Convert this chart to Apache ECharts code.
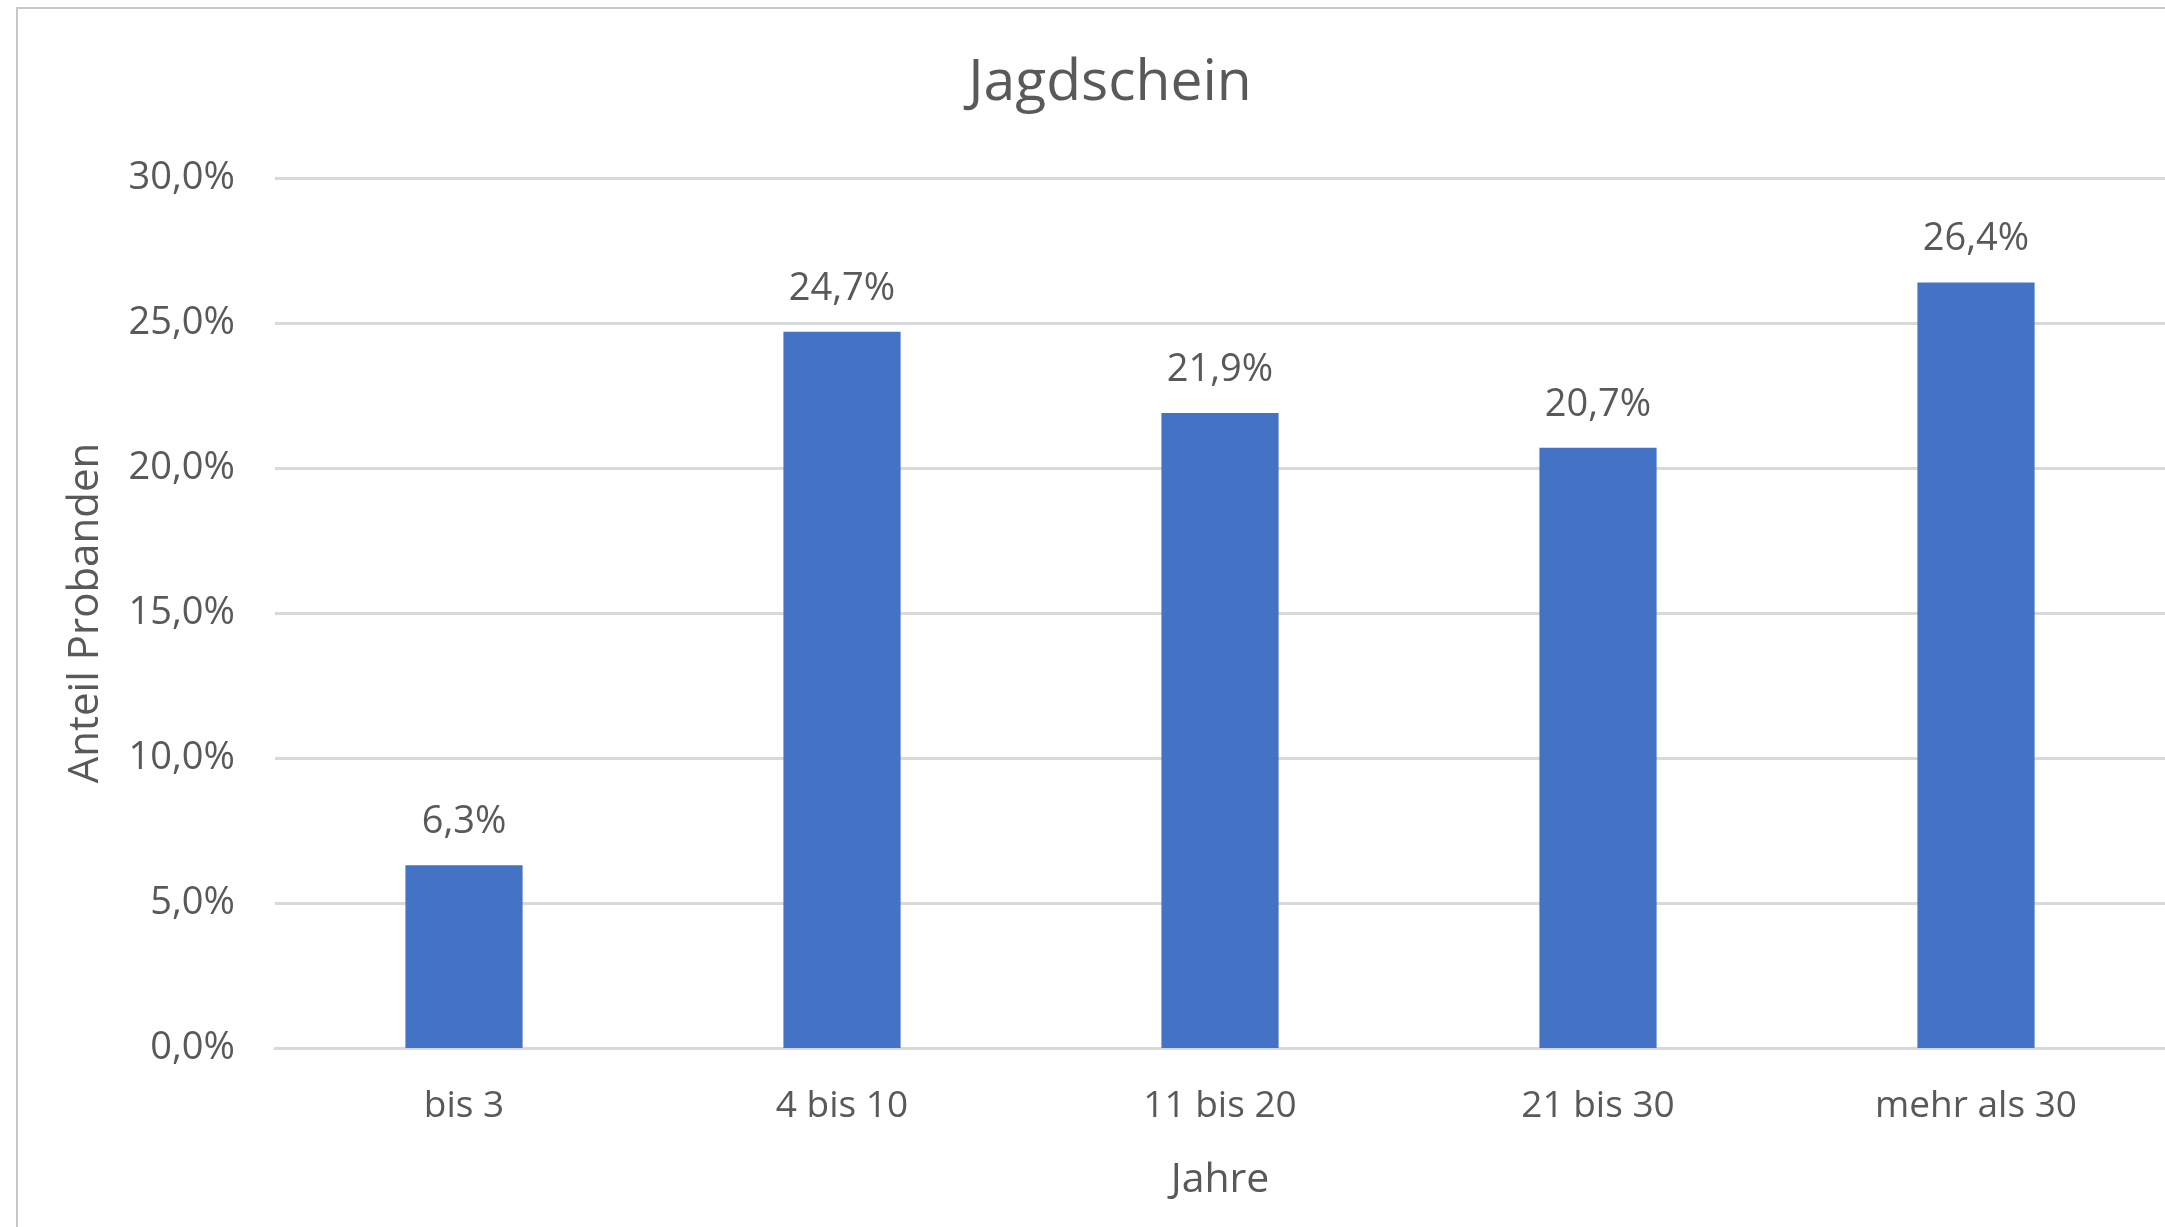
<!DOCTYPE html>
<html>
<head>
<meta charset="utf-8">
<script src="https://cdn.jsdelivr.net/npm/echarts@6/dist/echarts.min.js"></script>
<style>
html,body{margin:0;padding:0;background:#fff;}
#chart{width:2165px;height:1227px;}
</style>
</head>
<body>
<div id="chart"></div>
<script>
const categories = ['bis 3', '4 bis 10', '11 bis 20', '21 bis 30', 'mehr als 30'];
const values = [6.3, 24.7, 21.9, 20.7, 26.4];
const titleText = 'Jagdschein';
const xAxisName = 'Jahre';
const yAxisName = 'Anteil Probanden';

const fmt = v => v.toFixed(1).replace('.', ',') + '%';
const FONT = '"Open Sans", sans-serif';
const TXT = '#595959';

const chart = echarts.init(document.getElementById('chart'), null, {renderer: 'canvas'});
chart.setOption({
  animation: false,
  backgroundColor: '#ffffff',
  title: {
    text: titleText,
    left: 1105,
    top: 50,
    textAlign: 'center',
    textStyle: {fontFamily: FONT, fontSize: 57, fontWeight: 'normal', color: TXT}
  },
  graphic: [{
    type: 'rect',
    shape: {x: 17, y: 8, width: 2400, height: 1400},
    style: {fill: 'none', stroke: '#c8c8c8', lineWidth: 2},
    silent: true
  }],
  grid: {left: 275, right: -3, top: 178, bottom: 179, containLabel: false},
  xAxis: {
    type: 'category',
    data: categories,
    name: xAxisName,
    nameLocation: 'middle',
    nameGap: 112,
    nameTextStyle: {fontFamily: FONT, fontSize: 41, color: TXT},
    axisLine: {show: true, lineStyle: {color: '#d9d9d9', width: 3}},
    axisTick: {show: false},
    axisLabel: {fontFamily: FONT, fontSize: 37, color: TXT, margin: 40}
  },
  yAxis: {
    type: 'value',
    min: 0,
    max: 30,
    interval: 5,
    name: yAxisName,
    nameLocation: 'middle',
    nameGap: 168,
    nameTextStyle: {fontFamily: FONT, fontSize: 42, color: TXT},
    axisLine: {show: false},
    axisTick: {show: false},
    axisLabel: {fontFamily: FONT, fontSize: 38, color: TXT, margin: 40, formatter: v => fmt(v)},
    splitLine: {lineStyle: {color: '#d9d9d9', width: 3}}
  },
  series: [{
    type: 'bar',
    data: values,
    barWidth: '31%',
    itemStyle: {color: '#4472c4'},
    label: {
      show: true,
      position: 'top',
      distance: 24,
      fontFamily: FONT,
      fontSize: 38,
      color: TXT,
      formatter: p => fmt(p.value)
    }
  }]
});
</script>
</body>
</html>
